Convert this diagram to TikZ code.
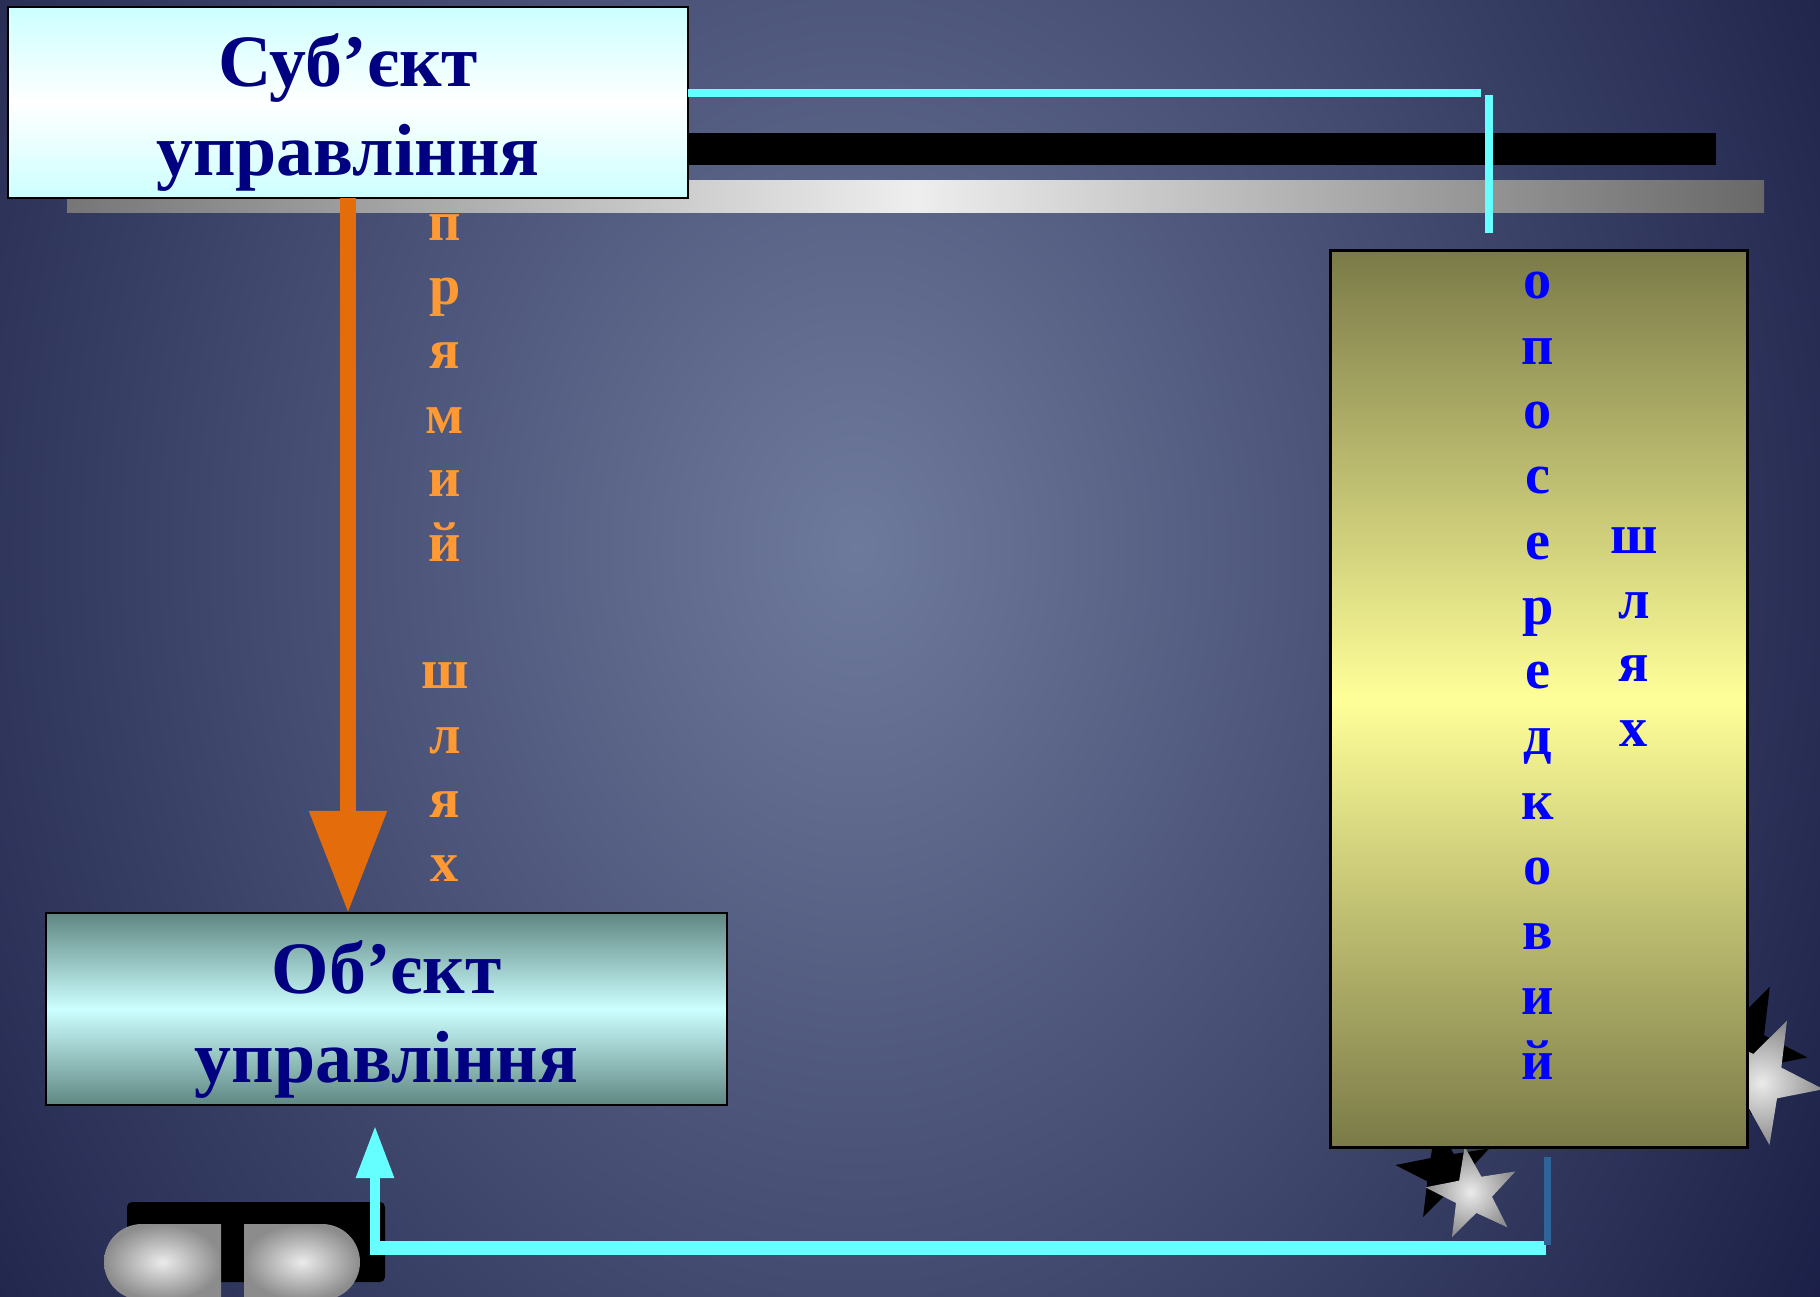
\documentclass[tikz,border=0pt]{standalone}
\usepackage{fontspec}
\setmainfont{Liberation Serif}
\usetikzlibrary{arrows.meta,shapes.geometric}

\definecolor{bgmid}{RGB}{110,122,156}
\definecolor{bgdark}{RGB}{22,26,66}
\definecolor{navytext}{RGB}{0,0,128}
\definecolor{lightcyan}{RGB}{204,255,255}
\definecolor{tealdark}{RGB}{95,135,130}
\definecolor{olivedark}{RGB}{122,122,72}
\definecolor{paleyellow}{RGB}{255,255,153}
\definecolor{linkcyan}{RGB}{102,255,255}
\definecolor{steelline}{RGB}{46,100,152}
\definecolor{arroworange}{RGB}{228,108,10}
\definecolor{letterorange}{RGB}{255,153,51}
\definecolor{barleft}{RGB}{118,118,118}
\definecolor{barmid}{RGB}{238,238,238}
\definecolor{barright}{RGB}{104,104,104}
\definecolor{metallight}{RGB}{235,235,235}
\definecolor{metaldark}{RGB}{140,140,140}

\begin{document}
\begin{tikzpicture}[
    x=0.01cm, y=-0.01cm,
    every node/.style={inner sep=0pt, outer sep=0pt},
    box/.style={draw=black, line width=0.6pt, rectangle},
    boxSubj/.style={box, top color=lightcyan, bottom color=lightcyan, middle color=white, minimum width=6.8cm, minimum height=1.91cm},
    boxObj/.style={box, top color=tealdark, bottom color=tealdark, middle color=lightcyan, minimum width=6.81cm, minimum height=1.92cm},
    boxPath/.style={box, line width=0.8pt, top color=olivedark, bottom color=olivedark, middle color=paleyellow, minimum width=4.16cm, minimum height=8.96cm},
    boxText/.style={font=\fontsize{21}{25}\selectfont\bfseries, text=navytext, anchor=base},
    letterOrange/.style={font=\fontsize{16}{18}\selectfont\bfseries, text=letterorange, anchor=base},
    letterBlue/.style={font=\fontsize{16}{18}\selectfont\bfseries, text=blue, anchor=base},
    starGrey/.style={star, star points=5, star point ratio=2.5, inner color=metallight, outer color=metaldark},
    starBlack/.style={star, star points=5, star point ratio=2.5, fill=black},
    cyanLine/.style={draw=linkcyan, line width=0.08cm},
    dirArrow/.style={draw=arroworange, line width=0.15cm, -{Triangle[length=1.02cm, width=0.74cm]}},
    backArrow/.style={draw=linkcyan, line width=0.09cm, -{Triangle[length=0.52cm, width=0.36cm]}}
  ]
  \useasboundingbox (0,0) rectangle (1820,1297);
  \clip (0,0) rectangle (1820,1297);

  % background
  \fill[bgdark] (0,0) rectangle (1820,1297);
  \shade[inner color=bgmid, outer color=bgdark] (-349,-973) rectangle (2061,2067);

  % bars behind the top box
  \fill[black] (300,133) rectangle (1716,165);
  \shade[left color=barleft, right color=barright, middle color=barmid] (67,181) rectangle (1764,213);

  % top feedback line
  \coordinate (fbTop) at (1481,93);
  \coordinate (fbTopV) at (1489,95);
  \coordinate (fbDrop) at (1489,233);

  \node[boxSubj] (subj) at (348,102.5) {};
  \node[boxText] (subj1) at (348,87) {Суб’єкт};
  \node[boxText] (subj2) at (348,176) {управління};

  \draw[cyanLine] (subj.east |- fbTop) -- (fbTop);
  \draw[cyanLine] (fbTopV) -- (fbDrop);

  % direct way
  \foreach \ch/\k in {п/0,р/1,я/2,м/3,и/4,й/5,ш/7,л/8,я/9,х/10}
    \node[letterOrange] (dir\k) at (445,{241+64*\k}) {\ch};

  \node[boxObj] (obj) at (386.5,1009) {};
  \node[boxText] (obj1) at (386.5,993) {Об’єкт};
  \node[boxText] (obj2) at (386.5,1082) {управління};

  \draw[dirArrow] (subj.south) -- (subj.south |- obj.north);

  % stars
  \node[starBlack, minimum size=1.0cm, shape border rotate=10] (starB1) at (1445,1172) {};
  \node[starGrey, minimum size=0.96cm, shape border rotate=10] (starG1) at (1473,1194) {};
  \node[starBlack, minimum size=1.36cm, shape border rotate=-26] (starB2) at (1740,1048) {};
  \node[starGrey, minimum size=1.32cm, shape border rotate=-26] (starG2) at (1758,1080) {};

  % indirect way
  \node[boxPath] (ind) at (1539,699) {};
  \foreach \ch [count=\i from 0] in {о,п,о,с,е,р,е,д,к,о,в,и,й}
    \node[letterBlue] (ind\i) at (1538,{299+65*\i}) {\ch};
  \foreach \ch [count=\i from 0] in {ш,л,я,х}
    \node[letterBlue] (way\i) at (1634,{554+64*\i}) {\ch};

  % bottom left ornament
  \fill[black, rounded corners=0.05cm] (127,1202) rectangle (385,1282);
  \shade[inner color=metallight, outer color=metaldark]
    (221,1224) -- (142,1224) arc[start angle=270, end angle=90, radius=38] -- (221,1300) -- cycle;
  \shade[inner color=metallight, outer color=metaldark]
    (244,1224) -- (322,1224) arc[start angle=270, end angle=450, radius=38] -- (244,1300) -- cycle;

  % bottom feedback line
  \coordinate (fbStart) at (1547,1157);
  \coordinate (fbCorner) at (1547,1245);
  \coordinate (fbRight) at (1546,1248);
  \coordinate (fbLeft) at (371,1248);
  \coordinate (fbFoot) at (375,1255);
  \coordinate (fbTip) at (375,1126);
  \draw[cyanLine, line width=0.14cm] (fbRight) -- (fbLeft);
  \draw[backArrow] (fbFoot) -- (fbTip);
  \draw[steelline, line width=0.07cm] (fbStart) -- (fbCorner);
\end{tikzpicture}
\end{document}
